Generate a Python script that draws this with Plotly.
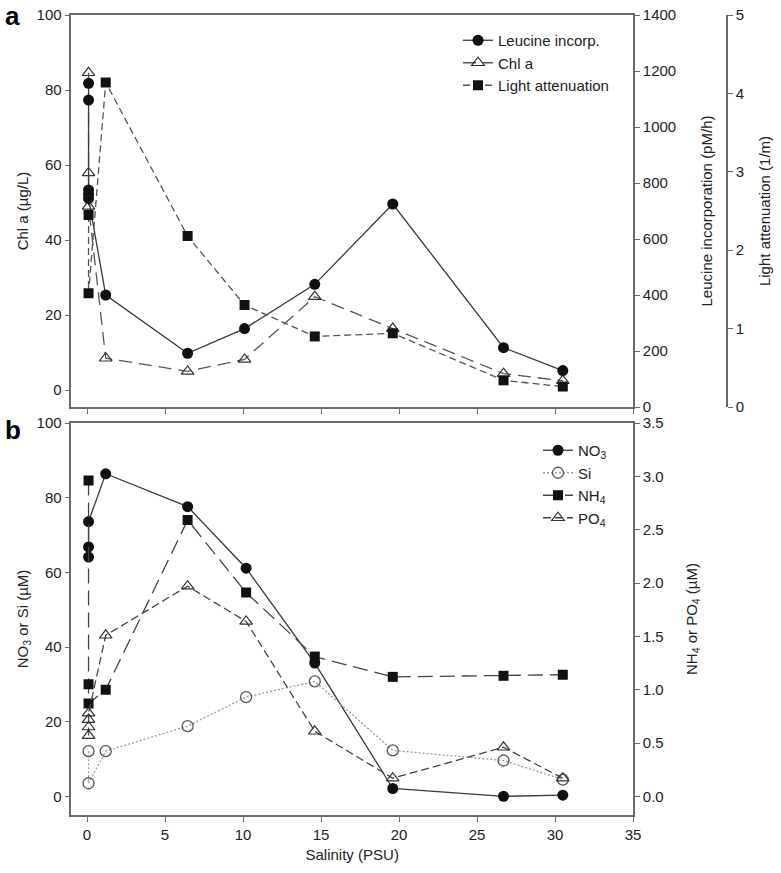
import plotly.graph_objects as go

# ---------------- Panel a data ----------------
leu_sal = [0.1, 0.1, 0.1, 0.1, 0.1, 1.2, 6.45, 10.1, 14.6, 19.6, 26.7, 30.5]
leu_val = [1156, 1096, 775, 760, 745, 400, 192, 280, 438, 725, 212, 130]

chl_sal = [0.1, 0.1, 0.1, 1.2, 6.45, 10.1, 14.6, 19.6, 26.7, 30.5]
chl_val = [84.6, 57.9, 49.0, 8.5, 5.0, 8.2, 24.9, 16.4, 4.4, 2.5]

light_sal = [0.1, 0.1, 1.2, 6.45, 10.1, 14.6, 19.6, 26.7, 30.5]
light_val = [2.45, 1.45, 4.14, 2.18, 1.30, 0.90, 0.94, 0.34, 0.26]

# ---------------- Panel b data ----------------
no3_sal = [0.1, 0.1, 0.1, 1.2, 6.45, 10.2, 14.6, 19.6, 26.7, 30.5]
no3_val = [64.1, 66.8, 73.6, 86.4, 77.6, 61.1, 35.7, 2.1, 0.0, 0.3]

si_sal = [0.1, 0.1, 1.2, 6.45, 10.2, 14.6, 19.6, 26.7, 30.5]
si_val = [12.1, 3.5, 12.1, 18.8, 26.6, 30.8, 12.3, 9.6, 4.5]

nh4_sal = [0.1, 0.1, 0.1, 1.2, 6.45, 10.2, 14.6, 19.6, 26.7, 30.5]
nh4_val = [2.96, 1.05, 0.87, 1.00, 2.59, 1.91, 1.31, 1.12, 1.13, 1.14]

po4_sal = [0.1, 0.1, 0.1, 0.1, 1.2, 6.45, 10.2, 14.6, 19.6, 26.7, 30.5]
po4_val = [0.57, 0.65, 0.72, 0.78, 1.51, 1.97, 1.64, 0.61, 0.17, 0.46, 0.17]

# body margin is removed by post_script, so figure fills the 781x873 view
OFF = 0
W, H = 781 - OFF, 873 - OFF
FONT = "Liberation Sans, Arial, sans-serif"
AX = "#6a6a6a"
TXT = "#222222"

def px_x(p):
    return (p - OFF) / W

def px_y(p):
    return 1 - (p - OFF) / H

xdom = [px_x(71.4), px_x(633)]
ydom_a = [px_y(407), px_y(15)]
ydom_b = [px_y(815), px_y(423)]

fig = go.Figure()

# Panel a traces
fig.add_trace(go.Scatter(
    x=leu_sal, y=leu_val, name="Leucine incorp.", xaxis="x", yaxis="y2",
    mode="lines+markers", line=dict(color="#3a3a3a", width=1.3),
    marker=dict(symbol="circle", size=11, color="#111111"), legend="legend"))
fig.add_trace(go.Scatter(
    x=chl_sal, y=chl_val, name="Chl a", xaxis="x", yaxis="y",
    mode="lines+markers", line=dict(color="#555555", width=1.3, dash="13px,7px"),
    marker=dict(symbol="triangle-up-open", size=11, color="#333333", line=dict(width=1.2)),
    legend="legend"))
fig.add_trace(go.Scatter(
    x=light_sal, y=light_val, name="Light attenuation", xaxis="x", yaxis="y3",
    mode="lines+markers", line=dict(color="#555555", width=1.3, dash="7px,4px"),
    marker=dict(symbol="square", size=10, color="#111111"), legend="legend"))

# Panel b traces
fig.add_trace(go.Scatter(
    x=no3_sal, y=no3_val, name="NO<sub>3</sub>", xaxis="x2", yaxis="y4",
    mode="lines+markers", line=dict(color="#3a3a3a", width=1.3),
    marker=dict(symbol="circle", size=11, color="#111111"), legend="legend2"))
fig.add_trace(go.Scatter(
    x=si_sal, y=si_val, name="Si", xaxis="x2", yaxis="y4",
    mode="lines+markers", line=dict(color="#9a9a9a", width=1.3, dash="2px,2px"),
    marker=dict(symbol="circle-open", size=11, color="#555555", line=dict(width=1.3)),
    legend="legend2"))
fig.add_trace(go.Scatter(
    x=nh4_sal, y=nh4_val, name="NH<sub>4</sub>", xaxis="x2", yaxis="y5",
    mode="lines+markers", line=dict(color="#444444", width=1.3, dash="15px,7px"),
    marker=dict(symbol="square", size=10, color="#111111"), legend="legend2"))
fig.add_trace(go.Scatter(
    x=po4_sal, y=po4_val, name="PO<sub>4</sub>", xaxis="x2", yaxis="y5",
    mode="lines+markers", line=dict(color="#444444", width=1.3, dash="8px,4px"),
    marker=dict(symbol="triangle-up-open", size=11, color="#333333", line=dict(width=1.2)),
    legend="legend2"))

axis_common = dict(showline=True, linecolor=AX, linewidth=1.6, ticks="outside",
                   ticklen=5, tickcolor=AX, tickwidth=1.3, showgrid=False,
                   zeroline=False, automargin=False, ticklabeloverflow="allow",
                   tickfont=dict(size=15, color=TXT, family=FONT))

fig.update_layout(
    width=W, height=H,
    margin=dict(l=0, r=0, t=0, b=0, autoexpand=False),
    paper_bgcolor="white", plot_bgcolor="white",
    font=dict(family=FONT, color=TXT, size=15),
    xaxis=dict(domain=xdom, range=[-1, 35], anchor="y", tick0=0, dtick=5,
               showticklabels=False, mirror=True, **axis_common),
    yaxis=dict(domain=ydom_a, range=[-4.5, 100], anchor="x", tick0=0, dtick=20,
               title=dict(text="Chl a (µg/L)", standoff=4, font=dict(size=15)),
               **axis_common),
    yaxis2=dict(overlaying="y", anchor="x", side="right", range=[0, 1400], dtick=200,
                title=dict(text="Leucine incorporation (pM/h)", standoff=26, font=dict(size=15)),
                **axis_common),
    yaxis3=dict(overlaying="y", anchor="free", side="right", position=px_x(727),
                range=[0, 5], dtick=1,
                title=dict(text="Light attenuation (1/m)", standoff=15, font=dict(size=15)),
                **axis_common),
    xaxis2=dict(domain=xdom, range=[-1, 35], anchor="y4", tick0=0, dtick=5,
                mirror=True,
                title=dict(text="Salinity (PSU)", standoff=8, font=dict(size=15)),
                **axis_common),
    yaxis4=dict(domain=ydom_b, range=[-5, 100], anchor="x2", tick0=0, dtick=20,
                title=dict(text="NO<sub>3</sub> or Si (µM)", standoff=4, font=dict(size=15)),
                **axis_common),
    yaxis5=dict(overlaying="y4", anchor="x2", side="right", range=[-0.175, 3.5],
                dtick=0.5, tick0=0, tickformat=".1f",
                title=dict(text="NH<sub>4</sub> or PO<sub>4</sub> (µM)", standoff=24, font=dict(size=15)),
                **axis_common),
    legend=dict(x=px_x(458), y=px_y(24), xanchor="left", yanchor="top",
                bgcolor="rgba(0,0,0,0)", font=dict(size=15, color=TXT),
                tracegroupgap=0, itemwidth=30),
    legend2=dict(x=px_x(538), y=px_y(434), xanchor="left", yanchor="top",
                 bgcolor="rgba(0,0,0,0)", font=dict(size=15, color=TXT),
                 tracegroupgap=0, itemwidth=30),
    showlegend=True,
    annotations=[
        dict(text="<b>a</b>", x=px_x(3), y=px_y(-1), xref="paper", yref="paper",
             xanchor="left", yanchor="top", showarrow=False,
             font=dict(size=26, family=FONT, color="#000000")),
        dict(text="<b>b</b>", x=px_x(3), y=px_y(413), xref="paper", yref="paper",
             xanchor="left", yanchor="top", showarrow=False,
             font=dict(size=26, family=FONT, color="#000000")),
    ],
)

fig.write_html("out.html", config={"displayModeBar": False},
               post_script="document.body.style.margin='0px';")
